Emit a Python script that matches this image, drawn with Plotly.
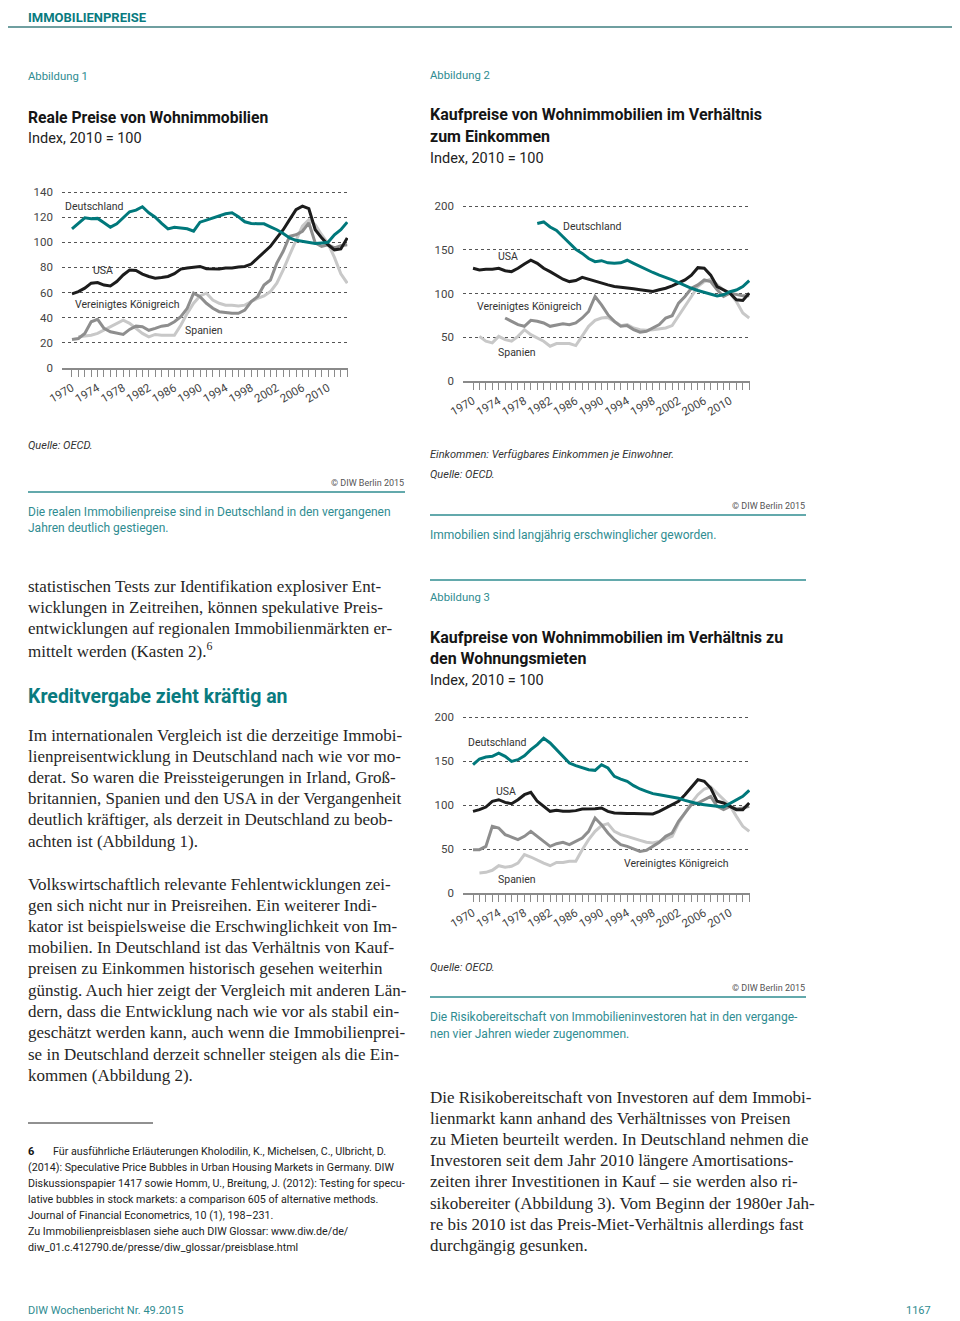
import plotly.graph_objects as go

W, H = 960, 1321
OFF = 8  # the page body margin shifts the figure by 8px; compensate
years = list(range(1970, 2014))

# ---------------- Abbildung 1: Reale Preise von Wohnimmobilien ----------------
de1 = [110.7, 115.5, 119.5, 118.7, 119.0, 115.5, 112.0, 114.7, 119.5, 124.3,
       125.6, 128.3, 123.5, 120.0, 115.0, 110.7, 112.0, 111.2, 110.7, 108.8,
       116.0, 117.6, 119.5, 120.8, 122.7, 123.5, 120.3, 116.3, 115.0, 114.7,
       114.7, 112.3, 110.0, 107.0, 103.5, 101.6, 100.8, 100.0, 99.0, 99.5,
       100.0, 106.0, 110.0, 116.0]
us1 = [59.0, 60.8, 63.5, 67.5, 68.0, 66.0, 65.3, 68.8, 74.0, 78.0,
       77.6, 74.7, 72.8, 71.5, 72.0, 72.8, 75.0, 78.7, 79.5, 80.0,
       80.8, 79.0, 78.7, 78.7, 79.5, 79.5, 80.3, 80.8, 82.7, 87.5,
       92.8, 96.8, 103.5, 110.0, 118.0, 126.0, 128.8, 126.7, 110.0, 103.5,
       98.0, 94.0, 94.7, 103.5]
uk1 = [22.7, 23.5, 27.5, 36.8, 38.7, 31.5, 28.8, 27.5, 26.7, 30.7,
       33.3, 32.8, 30.0, 31.5, 33.3, 34.0, 36.8, 40.8, 47.5, 59.5,
       56.8, 51.5, 47.5, 44.8, 44.0, 43.5, 43.5, 46.0, 52.8, 56.8,
       66.0, 70.0, 83.5, 92.8, 104.8, 106.0, 108.8, 115.5, 99.5, 96.8,
       98.0, 95.5, 97.3, 98.0]
es1 = [None, 24.8, 25.3, 26.0, 27.5, 30.0, 32.8, 35.5, 38.0, 35.5,
       31.5, 27.5, 24.8, 26.7, 26.0, 26.0, 26.0, 34.0, 43.5, 51.5,
       57.3, 59.5, 54.0, 51.5, 50.0, 50.0, 49.3, 50.0, 52.8, 55.5,
       57.3, 60.8, 67.5, 78.0, 90.0, 100.8, 112.8, 118.0, 114.0, 106.0,
       99.0, 88.0, 75.0, 67.5]

# ---------------- Abbildung 2: Kaufpreise im Verhältnis zum Einkommen ----------------
de2 = [None] * 10 + [
       180.0, 181.8, 176.0, 172.0, 164.8, 157.0, 150.4, 145.8, 140.0, 136.4,
       137.5, 135.0, 134.5, 135.0, 138.0, 134.5, 130.7, 127.0, 124.0, 121.0,
       118.5, 115.5, 112.5, 109.0, 106.0, 103.4, 101.5, 99.6, 97.3, 98.5,
       102.0, 104.0, 108.0, 114.8]
us2 = [128.8, 127.0, 127.7, 127.7, 128.8, 126.0, 125.0, 128.8, 133.7, 138.0,
       134.5, 128.8, 125.0, 121.0, 116.3, 113.6, 114.8, 118.5, 116.3, 113.6,
       111.7, 109.8, 108.0, 107.2, 106.8, 105.3, 104.2, 103.0, 102.3, 104.2,
       106.0, 108.7, 111.7, 115.5, 121.0, 129.5, 128.8, 121.0, 108.0, 104.2,
       100.4, 92.8, 92.0, 100.4]
uk2 = [None] * 5 + [72.0, 68.2, 64.4, 62.5, 69.3,
       68.2, 66.3, 62.5, 64.4, 65.5, 64.4, 66.3, 72.0, 79.5, 96.6,
       87.0, 75.8, 68.2, 62.5, 63.3, 58.7, 55.7, 56.8, 60.6, 64.4,
       72.0, 74.6, 89.0, 96.6, 106.0, 109.8, 115.5, 113.6, 104.2, 96.6,
       100.4, 98.5, 97.3, 97.3]
es2 = [None, 51.0, 45.5, 43.6, 51.0, 47.3, 45.5, 51.0, 58.7, 53.0,
       49.2, 45.5, 39.8, 42.8, 42.8, 42.8, 40.5, 51.0, 62.5, 69.3,
       72.0, 72.7, 68.2, 63.3, 64.4, 60.6, 58.7, 58.0, 58.7, 59.5,
       60.6, 63.3, 73.9, 85.2, 96.6, 108.0, 113.6, 116.3, 109.8, 104.2,
       100.4, 90.9, 77.7, 72.0]

# ---------------- Abbildung 3: Kaufpreise im Verhältnis zu den Mieten ----------------
de3 = [145.8, 152.3, 154.5, 155.3, 159.0, 155.3, 149.6, 151.5, 156.0, 162.9,
       168.6, 176.0, 170.5, 162.9, 155.3, 147.7, 144.7, 142.0, 140.0, 139.4,
       145.8, 142.0, 132.6, 129.5, 126.9, 122.0, 118.2, 115.5, 112.9, 111.7,
       110.6, 109.0, 107.6, 105.3, 103.0, 101.5, 100.4, 99.2, 98.5, 97.7,
       101.5, 106.0, 109.8, 116.7]
us3 = [92.8, 94.7, 97.7, 104.2, 106.0, 103.0, 101.5, 106.0, 111.7, 114.4,
       104.2, 98.5, 92.8, 93.9, 92.8, 92.8, 93.6, 95.5, 95.5, 95.8,
       96.6, 92.8, 90.9, 90.2, 90.2, 90.2, 89.8, 89.4, 89.8, 92.8,
       96.6, 100.4, 104.2, 111.7, 120.5, 128.8, 126.9, 119.3, 104.2, 102.3,
       98.5, 94.7, 94.7, 102.3]
uk3 = [49.2, 49.2, 53.0, 75.8, 73.9, 66.3, 63.6, 60.6, 64.4, 70.0,
       64.4, 58.7, 53.0, 56.0, 57.6, 54.9, 58.7, 62.5, 70.0, 85.2,
       77.7, 68.2, 60.6, 54.9, 53.0, 50.0, 47.3, 48.5, 53.0, 57.6,
       64.4, 68.2, 81.4, 90.9, 100.4, 102.3, 106.0, 109.8, 98.5, 94.7,
       98.5, 95.5, 96.6, 98.5]
es3 = [None, 22.7, 23.5, 25.8, 31.0, 29.2, 30.3, 34.0, 43.6, 40.9,
       37.1, 34.0, 31.0, 34.8, 34.8, 36.0, 36.0, 49.2, 60.6, 70.0,
       76.5, 78.8, 70.0, 66.3, 64.4, 62.5, 59.8, 57.6, 56.8, 58.7,
       61.4, 64.4, 79.5, 90.9, 102.3, 111.7, 118.2, 120.5, 113.6, 106.0,
       99.2, 87.1, 75.8, 70.0]

x_ticks = list(range(1970, 2011, 4))
y_ticks1 = [0, 20, 40, 60, 80, 100, 120, 140]
y_ticks23 = [0, 50, 100, 150, 200]

C_DE = "#00787b"
C_US = "#1c1c1c"
C_UK = "#8e8e8e"
C_ES = "#c8c8c8"
TEAL_TXT = "#2f8c91"
TEAL_HEAD = "#0a7b7f"
SANS = "Roboto, 'Open Sans', sans-serif"
SERIF = "'Liberation Serif', 'DejaVu Serif', serif"


def fx(px):
    return (px - OFF) / W


def fy(py):
    return 1 - (py - OFF) / H


fig = go.Figure()

panels = [
    ("x", "y", [(es1, C_ES), (uk1, C_UK), (us1, C_US), (de1, C_DE)]),
    ("x2", "y2", [(es2, C_ES), (uk2, C_UK), (us2, C_US), (de2, C_DE)]),
    ("x3", "y3", [(es3, C_ES), (uk3, C_UK), (us3, C_US), (de3, C_DE)]),
]
for xa, ya, sers in panels:
    for vals, col in sers:
        fig.add_trace(go.Scatter(x=years, y=vals, mode="lines", xaxis=xa, yaxis=ya,
                                 line=dict(color=col, width=3), connectgaps=False,
                                 hoverinfo="skip"))


def xaxis(dom, anchor):
    return dict(domain=[fx(dom[0]), fx(dom[1])], anchor=anchor, automargin=False,
                range=[1968.44, 2013.12], tickmode="array", tickvals=x_ticks,
                ticks="outside", ticklen=7, tickcolor="#8a8a8a", tickwidth=1,
                tickangle=-30, tickfont=dict(family=SANS, size=11.5, color="#444"),
                showline=True, linecolor="#8a8a8a", linewidth=2,
                showgrid=False, zeroline=False, fixedrange=True,
                minor=dict(tickmode="array", tickvals=years, ticks="outside",
                           ticklen=7, tickcolor="#8a8a8a", tickwidth=1, showgrid=False))


def yaxis(top_px, bot_px, rng, tv, anchor):
    return dict(domain=[fy(bot_px), fy(top_px)], anchor=anchor, range=rng,
                automargin=False,
                tickmode="array", tickvals=tv, ticks="", showline=False,
                zeroline=False, showgrid=True, gridcolor="#555555", griddash="dot",
                gridwidth=1, tickfont=dict(family=SANS, size=11.5, color="#444"),
                ticklabelstandoff=8, fixedrange=True)


fig.update_layout(
    width=W, height=H, autosize=False,
    margin=dict(l=0, r=0, t=0, b=0, pad=0, autoexpand=False),
    paper_bgcolor="white", plot_bgcolor="white", showlegend=False,
    xaxis=xaxis((62, 348), "y"),
    yaxis=yaxis(368 - 145 * 1.2571, 368, [0, 145], y_ticks1, "x"),
    xaxis2=xaxis((463, 750), "y2"),
    yaxis2=yaxis(381 - 208 * 0.875, 381, [0, 208], y_ticks23, "x2"),
    xaxis3=xaxis((463, 750), "y3"),
    yaxis3=yaxis(893 - 208 * 0.88, 893, [0, 208], y_ticks23, "x3"),
)

ann = []


def txt(x, y, s, size, color="#222", family=SANS, anchor="left", yanchor="middle"):
    ann.append(dict(x=fx(x), y=min(fy(y), 1.0), xref="paper", yref="paper", text=s,
                    showarrow=False, xanchor=anchor, yanchor=yanchor,
                    font=dict(family=family, size=size, color=color)))


shapes = []


def hline(x0, x1, y, color, width):
    shapes.append(dict(type="line", xref="paper", yref="paper", x0=fx(x0), x1=fx(x1),
                       y0=fy(y), y1=fy(y), line=dict(color=color, width=width)))


LX = 26    # left column text x
RX = 428   # right column text x

# Header (top of the figure sits at page y = 8)
txt(LX, 8, "<b>IMMOBILIENPREISE</b>", 13, TEAL_HEAD, yanchor="top")
hline(3, 957, 27, "#6f9fa0", 2)

# Chart 1 texts
txt(LX, 77, "Abbildung 1", 11.3, TEAL_TXT)
txt(LX, 118, "<b>Reale Preise von Wohnimmobilien</b>", 15.7, "#151515")
txt(LX, 139, "Index, 2010 = 100", 14.5, "#222")
txt(63, 207, "Deutschland", 10.5, "#333")
txt(91, 270, "USA", 10.5, "#333")
txt(73, 304, "Vereinigtes Königreich", 10.5, "#333")
txt(183, 330, "Spanien", 10.5, "#333")
txt(LX, 446, "<i>Quelle: OECD.</i>", 11, "#333")
txt(406, 483, "© DIW Berlin 2015", 9, "#555", anchor="right")
hline(28, 405, 492, TEAL_TXT, 1.5)
txt(LX, 512, "Die realen Immobilienpreise sind in Deutschland in den vergangenen", 12, TEAL_TXT)
txt(LX, 528, "Jahren deutlich gestiegen.", 12, TEAL_TXT)

# Chart 2 texts
txt(RX, 75, "Abbildung 2", 11.3, TEAL_TXT)
txt(RX, 115, "<b>Kaufpreise von Wohnimmobilien im Verhältnis</b>", 16, "#151515")
txt(RX, 136, "<b>zum Einkommen</b>", 16, "#151515")
txt(RX, 158, "Index, 2010 = 100", 14.5, "#222")
txt(561, 227, "Deutschland", 10.5, "#333")
txt(496, 257, "USA", 10.5, "#333")
txt(475, 306, "Vereinigtes Königreich", 10.5, "#333")
txt(496, 353, "Spanien", 10.5, "#333")
txt(RX, 455, "<i>Einkommen: Verfügbares Einkommen je Einwohner.</i>", 11, "#333")
txt(RX, 474, "<i>Quelle: OECD.</i>", 11, "#333")
txt(807, 506, "© DIW Berlin 2015", 9, "#555", anchor="right")
hline(430, 806, 515, TEAL_TXT, 1.5)
txt(RX, 535, "Immobilien sind langjährig erschwinglicher geworden.", 12, TEAL_TXT)

# Chart 3 texts
hline(430, 806, 580, TEAL_TXT, 1.5)
txt(RX, 597, "Abbildung 3", 11.3, TEAL_TXT)
txt(RX, 637, "<b>Kaufpreise von Wohnimmobilien im Verhältnis zu</b>", 16, "#151515")
txt(RX, 658, "<b>den Wohnungsmieten</b>", 16, "#151515")
txt(RX, 680, "Index, 2010 = 100", 14.5, "#222")
txt(466, 742, "Deutschland", 10.5, "#333")
txt(494, 791, "USA", 10.5, "#333")
txt(622, 863, "Vereinigtes Königreich", 10.5, "#333")
txt(496, 879, "Spanien", 10.5, "#333")
txt(RX, 967, "<i>Quelle: OECD.</i>", 11, "#333")
txt(807, 988, "© DIW Berlin 2015", 9, "#555", anchor="right")
hline(430, 806, 997, TEAL_TXT, 1.5)
txt(RX, 1017, "Die Risikobereitschaft von Immobilieninvestoren hat in den vergange-", 12, TEAL_TXT)
txt(RX, 1034, "nen vier Jahren wieder zugenommen.", 12, TEAL_TXT)

# Left column body text
BODY = "#262626"
left_lines = [
    (586, "statistischen Tests zur Identifikation explosiver Ent-"),
    (607, "wicklungen in Zeitreihen, können spekulative Preis-"),
    (628, "entwicklungen auf regionalen Immobilienmärkten er-"),
    (650, "mittelt werden (Kasten 2).<sup>6</sup>"),
    (735, "Im internationalen Vergleich ist die derzeitige Immobi-"),
    (756, "lienpreisentwicklung in Deutschland nach wie vor mo-"),
    (777, "derat. So waren die Preissteigerungen in Irland, Groß-"),
    (798, "britannien, Spanien und den USA in der Vergangenheit"),
    (820, "deutlich kräftiger, als derzeit in Deutschland zu beob-"),
    (841, "achten ist (Abbildung 1)."),
    (884, "Volkswirtschaftlich relevante Fehlentwicklungen zei-"),
    (905, "gen sich nicht nur in Preisreihen. Ein weiterer Indi-"),
    (926, "kator ist beispielsweise die Erschwinglichkeit von Im-"),
    (947, "mobilien. In Deutschland ist das Verhältnis von Kauf-"),
    (968, "preisen zu Einkommen historisch gesehen weiterhin"),
    (990, "günstig. Auch hier zeigt der Vergleich mit anderen Län-"),
    (1011, "dern, dass die Entwicklung nach wie vor als stabil ein-"),
    (1032, "geschätzt werden kann, auch wenn die Immobilienprei-"),
    (1054, "se in Deutschland derzeit schneller steigen als die Ein-"),
    (1075, "kommen (Abbildung 2)."),
]
for y, s in left_lines:
    txt(LX, y, s, 17, BODY, SERIF)
txt(LX, 697, "<b>Kreditvergabe zieht kräftig an</b>", 19.5, TEAL_HEAD)

# Right column body text
right_lines = [
    (1097, "Die Risikobereitschaft von Investoren auf dem Immobi-"),
    (1118, "lienmarkt kann anhand des Verhältnisses von Preisen"),
    (1139, "zu Mieten beurteilt werden. In Deutschland nehmen die"),
    (1160, "Investoren seit dem Jahr 2010 längere Amortisations-"),
    (1181, "zeiten ihrer Investitionen in Kauf – sie werden also ri-"),
    (1203, "sikobereiter (Abbildung 3). Vom Beginn der 1980er Jah-"),
    (1224, "re bis 2010 ist das Preis-Miet-Verhältnis allerdings fast"),
    (1245, "durchgängig gesunken."),
]
for y, s in right_lines:
    txt(RX, y, s, 17, BODY, SERIF)

# Footnote
hline(28, 153, 1123, "#222", 1)
txt(LX, 1151, "<b>6</b>", 11, "#111")
foot = [
    (51, 1151, "Für ausführliche Erläuterungen Kholodilin, K., Michelsen, C., Ulbricht, D."),
    (LX, 1167, "(2014): Speculative Price Bubbles in Urban Housing Markets in Germany. DIW"),
    (LX, 1183, "Diskussionspapier 1417 sowie Homm, U., Breitung, J. (2012): Testing for specu-"),
    (LX, 1199, "lative bubbles in stock markets: a comparison 605 of alternative methods."),
    (LX, 1215, "Journal of Financial Econometrics, 10 (1), 198–231."),
    (LX, 1231, "Zu Immobilienpreisblasen siehe auch DIW Glossar: www.diw.de/de/"),
    (LX, 1247, "diw_01.c.412790.de/presse/diw_glossar/preisblase.html"),
]
for x, y, s in foot:
    txt(x, y, s, 10.7, "#222")

# Footer
txt(LX, 1310, "DIW Wochenbericht Nr. 49.2015", 11, TEAL_TXT)
txt(933, 1310, "1167", 11, TEAL_TXT, anchor="right")

fig.update_layout(annotations=ann, shapes=shapes)
fig.write_html("out.html")
